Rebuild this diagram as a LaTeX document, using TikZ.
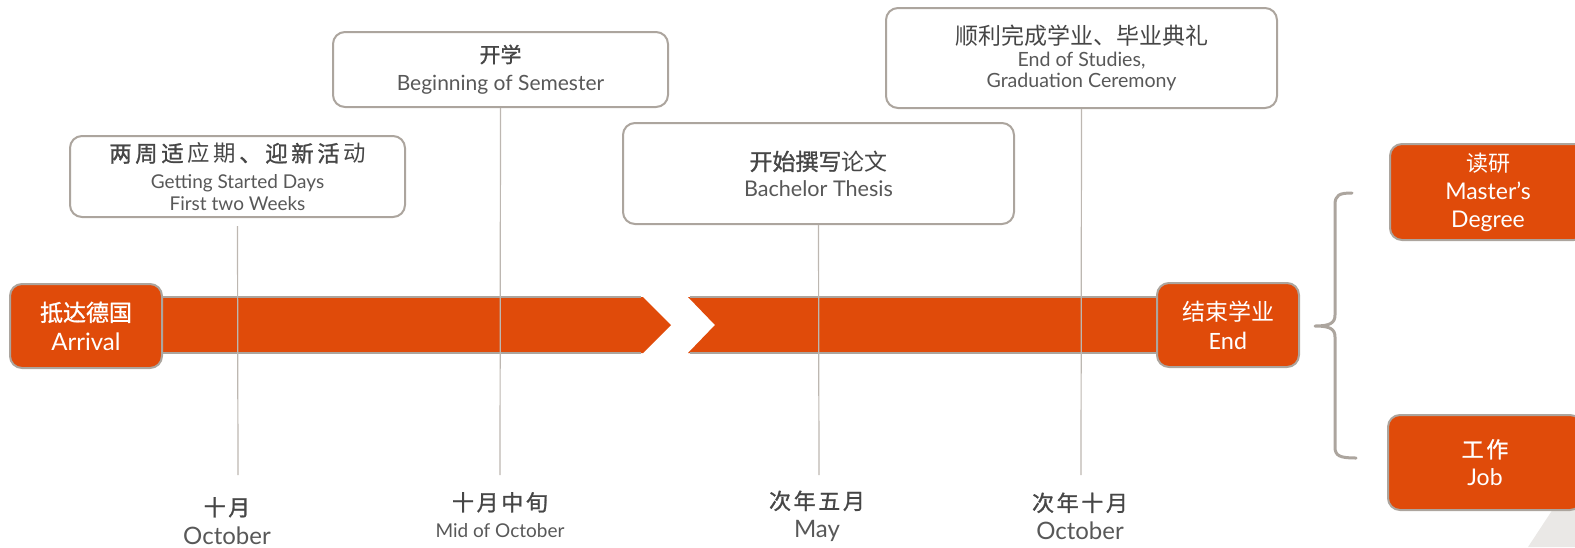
\documentclass[tikz,border=0pt]{standalone}
\usepackage{fontspec}
\setmainfont{Lato}
\newfontfamily\zh{Noto Sans CJK SC}
\newfontfamily\zhm[FakeBold=1.2]{Noto Sans CJK SC}
\newfontfamily\zhs[FakeBold=1.2,LetterSpace=12]{Noto Sans CJK SC}
\newfontfamily\carl{Carlito}
\newcommand\zgap{\kern1.8pt}
\definecolor{orng}{RGB}{224,75,10}
\definecolor{bgray}{RGB}{172,165,158}
\definecolor{tgray}{RGB}{88,88,88}
\definecolor{zgray}{RGB}{70,70,70}
\definecolor{tri}{RGB}{234,232,230}
\tikzset{
  infobox/.style={draw=bgray, line width=1pt, rounded corners=6pt, fill=white, text=tgray, align=center, inner sep=0pt},
  obox/.style={draw=bgray, line width=1pt, fill=orng, rounded corners=6pt, text=white, align=center, inner sep=0pt},
  tickline/.style={draw=bgray!80, line width=0.6pt},
  datelbl/.style={text=tgray, align=center, inner sep=0pt},
  barfill/.style={fill=orng, draw=none},
  baredge/.style={draw=bgray, line width=0.6pt},
  bracestroke/.style={draw=bgray, line width=1.5pt, line cap=round, line join=round}
}
\begin{document}
\begin{tikzpicture}[x=0.5pt,y=-0.5pt]
\useasboundingbox (0,0) rectangle (1575,547);
\clip (0,0) rectangle (1575,547);

% background corner shape
\fill[tri] (1528,547) -- (1580,468) -- (1580,547) -- cycle;

% timeline bar
\fill[barfill] (150,297) -- (643,297) -- (671,325) -- (643,353) -- (150,353) -- cycle;
\fill[barfill] (688,297) -- (1170,297) -- (1170,353) -- (688,353) -- (715,325) -- cycle;
\draw[baredge] (150,297) -- (641,297) (150,353) -- (641,353);
\draw[baredge] (690,297) -- (1170,297) (690,353) -- (1170,353);

% top info boxes
\node[infobox, minimum width=167.5pt, minimum height=40.5pt, font={\fontsize{9.5}{10.8}\selectfont}] (b1) at (237.5,176.5)
  {{\color{zgray}\fontsize{11.2}{13}\selectfont\zhm 两\zgap 周\zgap 适\zgap\zh 应\zgap 期\zgap\zhm 、\zgap 迎\zgap 新\zgap 活\zgap\zh 动}\\[2.5pt]Getting Started Days\\First two Weeks};
\node[infobox, minimum width=167.5pt, minimum height=37.5pt, font={\fontsize{10.5}{14}\selectfont}] (b2) at (500.5,69.5)
  {{\color{zgray}\zhm 开学}\\Beginning of Semester};
\node[infobox, minimum width=195.5pt, minimum height=50.5pt, font={\fontsize{10.8}{13}\selectfont}] (b3) at (818.5,173.5)
  {{\color{zgray}\fontsize{11.5}{13}\selectfont\zhm 开始撰写\zh 论文}\\Bachelor Thesis};
\node[infobox, minimum width=195.5pt, minimum height=50pt, font={\fontsize{9.8}{10.8}\selectfont}] (b4) at (1081.5,58)
  {{\color{zgray}\fontsize{11.5}{13}\selectfont\zh 顺利完成学业、毕业典礼}\\End of Studies,\\Graduation Ceremony};

% bottom date labels
\node[datelbl, font={\fontsize{12}{14.5}\selectfont}] (l1) at (227,521)
  {{\color{zgray}\fontsize{11}{14.5}\selectfont\zhs 十月}\\October};
\node[datelbl, font={\fontsize{9.5}{13.5}\selectfont}] (l2) at (500,515)
  {{\color{zgray}\fontsize{11}{13.5}\selectfont\zhs 十月中旬}\\Mid of October};
\node[datelbl, font={\fontsize{12}{14}\selectfont}] (l3) at (817,516)
  {{\color{zgray}\fontsize{11}{14}\selectfont\zhs 次年五月}\\May};
\node[datelbl, font={\fontsize{12}{14}\selectfont}] (l4) at (1080,516)
  {{\color{zgray}\fontsize{11}{14}\selectfont\zhs 次年十月}\\October};

% tick lines
\coordinate (t1) at (238,475);
\coordinate (t2) at (500,475);
\coordinate (t3) at (819,475);
\coordinate (t4) at (1081,475);
\draw[tickline] ([yshift=-4pt]b1.south) -- (t1);
\draw[tickline] (b2.south) -- (t2);
\draw[tickline] (b3.south) -- (t3);
\draw[tickline] (b4.south) -- (t4);

% start / end boxes
\node[obox, minimum width=76pt, minimum height=42pt, font={\fontsize{12}{14.5}\selectfont}] (arr) at (86,326)
  {{\fontsize{11.5}{14}\selectfont\zhm 抵达德国}\\Arrival};
\node[obox, minimum width=71pt, minimum height=42pt, font={\fontsize{12.5}{14.5}\selectfont}] (end) at (1228,325)
  {{\fontsize{11.5}{14}\selectfont\zh 结束学业}\\\carl End};

% brace
\draw[bracestroke] (1352,193) .. controls (1339,193) and (1335,195) .. (1335,205) -- (1335,315)
  .. controls (1335,323) and (1330,326) .. (1315,326)
  .. controls (1330,326) and (1335,329) .. (1335,337) -- (1335,447)
  .. controls (1335,456) and (1340,458) .. (1356,458);

% outcome boxes
\node[obox, minimum width=98pt, minimum height=48pt, font={\fontsize{11.5}{14}\selectfont}] (mas) at (1488,192)
  {{\fontsize{11}{14}\selectfont\zh 读研}\\Master’s\\Degree};
\node[obox, minimum width=97pt, minimum height=47.5pt, font={\fontsize{11.5}{14}\selectfont}] (job) at (1485,462.5)
  {{\fontsize{11}{14}\selectfont\zhs 工作}\\Job};
\end{tikzpicture}
\end{document}
